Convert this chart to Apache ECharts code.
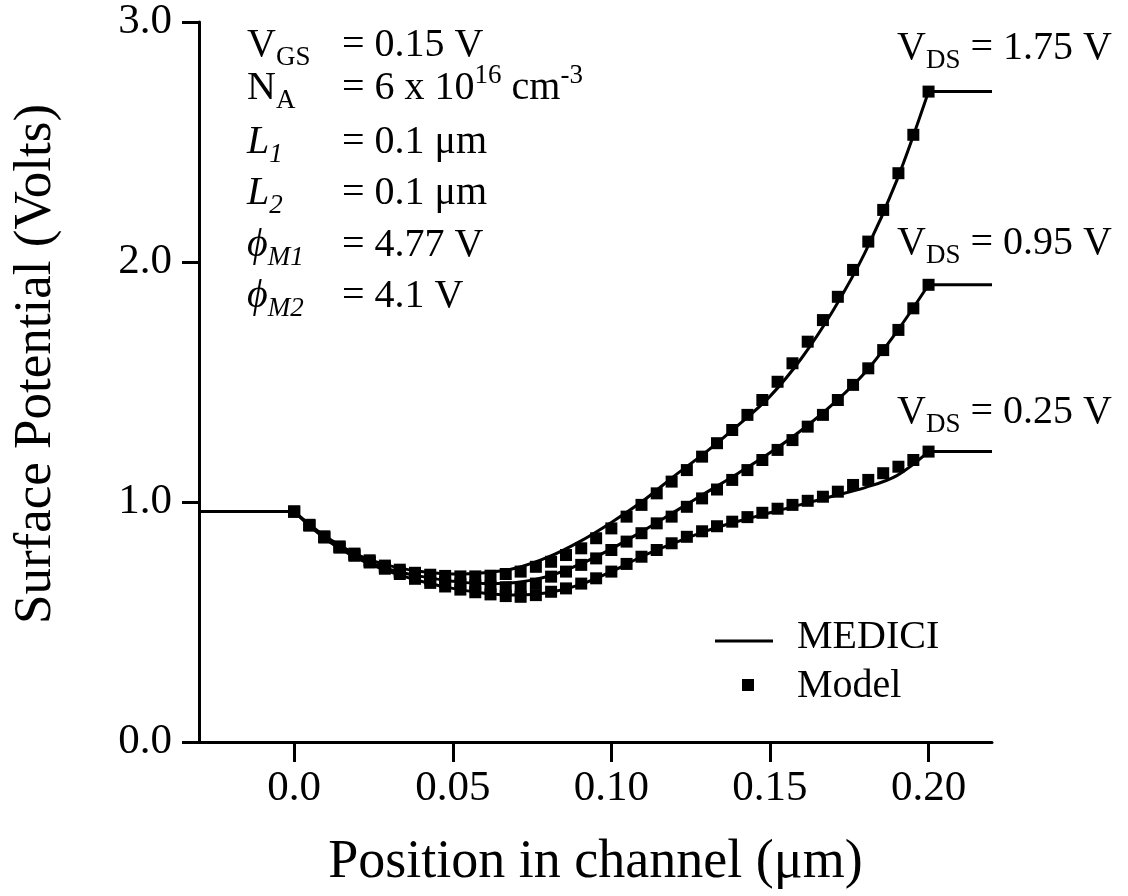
<!DOCTYPE html>
<html>
<head>
<meta charset="utf-8">
<script src="https://cdn.jsdelivr.net/npm/echarts@6.0.0/dist/echarts.min.js"></script>
<style>
  html, body { margin: 0; padding: 0; background: #fff; }
  #chart { width: 1128px; height: 896px; }
</style>
</head>
<body>
<div id="chart"></div>
<script>
// model points (squares), position in channel in um
const positionModel = [
  0, 0.0048, 0.0095, 0.0143, 0.019, 0.0238, 0.0286, 0.0333, 0.0381, 0.0429,
  0.0476, 0.0524, 0.0571, 0.0619, 0.0667, 0.0714, 0.0762, 0.081, 0.0857, 0.0905,
  0.0952, 0.1, 0.1048, 0.1095, 0.1143, 0.119, 0.1238, 0.1286, 0.1333, 0.1381,
  0.1429, 0.1476, 0.1524, 0.1571, 0.1619, 0.1667, 0.1714, 0.1762, 0.181, 0.1857,
  0.1905, 0.1952, 0.2,
]
const modelVds175 = [
  0.96, 0.905, 0.857, 0.815, 0.785, 0.757, 0.735, 0.718, 0.705, 0.697,
  0.692, 0.69, 0.69, 0.693, 0.7, 0.71, 0.73, 0.751, 0.779, 0.807,
  0.849, 0.89, 0.939, 0.988, 1.036, 1.085, 1.133, 1.189, 1.245, 1.3,
  1.363, 1.425, 1.501, 1.578, 1.668, 1.758, 1.855, 1.967, 2.085, 2.217,
  2.37, 2.53, 2.71,
]
const modelVds095 = [
  0.96, 0.903, 0.854, 0.812, 0.78, 0.752, 0.728, 0.708, 0.69, 0.677,
  0.667, 0.658, 0.652, 0.648, 0.645, 0.642, 0.66, 0.689, 0.71, 0.738,
  0.765, 0.8, 0.835, 0.87, 0.911, 0.939, 0.98, 1.015, 1.052, 1.092,
  1.133, 1.175, 1.217, 1.258, 1.314, 1.363, 1.425, 1.488, 1.557, 1.633,
  1.717, 1.807, 1.905,
]
const modelVds025 = [
  0.96, 0.902, 0.852, 0.81, 0.776, 0.748, 0.722, 0.7, 0.68, 0.663,
  0.648, 0.635, 0.624, 0.615, 0.608, 0.605, 0.612, 0.626, 0.64, 0.66,
  0.682, 0.71, 0.742, 0.772, 0.8, 0.828, 0.855, 0.878, 0.899, 0.918,
  0.937, 0.955, 0.972, 0.988, 1.005, 1.022, 1.043, 1.071, 1.092, 1.12,
  1.147, 1.175, 1.21,
]

// MEDICI simulation (solid lines); first and last points are the flat contact regions
const positionMedici = [
  -0.03, 0, 0.01, 0.02, 0.03, 0.04, 0.05, 0.06, 0.07, 0.08, 0.09, 0.1,
  0.11, 0.12, 0.13, 0.14, 0.15, 0.16, 0.17, 0.18, 0.19, 0.2, 0.22,
]
const mediciVds175 = [
  0.96, 0.96, 0.855, 0.78, 0.735, 0.71, 0.7, 0.705, 0.725, 0.77, 0.835, 0.915,
  1.005, 1.11, 1.21, 1.32, 1.44, 1.6, 1.8, 2.04, 2.34, 2.71, 2.71,
]
const mediciVds095 = [
  0.96, 0.96, 0.85, 0.77, 0.72, 0.69, 0.67, 0.66, 0.665, 0.69, 0.74, 0.805,
  0.88, 0.96, 1.04, 1.12, 1.205, 1.3, 1.41, 1.54, 1.71, 1.905, 1.905,
]
const mediciVds025 = [
  0.96, 0.96, 0.845, 0.765, 0.71, 0.67, 0.64, 0.62, 0.612, 0.622, 0.655, 0.71,
  0.775, 0.83, 0.88, 0.92, 0.955, 0.99, 1.025, 1.06, 1.11, 1.21, 1.21,
]

const xTickValues = [0, 0.05, 0.1, 0.15, 0.2]
const xTickLabels = ['0.0', '0.05', '0.10', '0.15', '0.20']
const yTickLabels = ['0.0', '1.0', '2.0', '3.0']

const FONT = '"Liberation Serif", "Times New Roman", Times, serif'

const zip = (xs, ys) => xs.map((x, i) => [x, ys[i]])

const RICH = {
  m: { fontFamily: FONT, fontSize: 40, lineHeight: 52, verticalAlign: 'middle', fill: '#000' },
  mi: { fontFamily: FONT, fontSize: 40, lineHeight: 52, verticalAlign: 'middle', fontStyle: 'italic', fill: '#000' },
  sub: { fontFamily: FONT, fontSize: 27, lineHeight: 26, verticalAlign: 'bottom', fill: '#000' },
  subi: { fontFamily: FONT, fontSize: 27, lineHeight: 26, verticalAlign: 'bottom', fontStyle: 'italic', fill: '#000' },
  sup: { fontFamily: FONT, fontSize: 27, lineHeight: 26, verticalAlign: 'top', fill: '#000' },
}

function label(x, y, text) {
  return {
    type: 'text',
    x,
    y,
    silent: true,
    style: {
      text,
      rich: RICH,
      fontFamily: FONT,
      fontSize: 40,
      align: 'left',
      verticalAlign: 'middle',
      fill: '#000',
    },
  }
}

// parameter block, top left
const paramRows = [
  [45, '{m|V}{sub|GS}', '{m|= 0.15 V}'],
  [88, '{m|N}{sub|A}', '{m|= 6 x 10}{sup|16}{m| cm}{sup|-3}'],
  [142, '{mi|L}{subi|1}', '{m|= 0.1 \u03bcm}'],
  [193, '{mi|L}{subi|2}', '{m|= 0.1 \u03bcm}'],
  [245, '{mi|\u03d5}{subi|M1}', '{m|= 4.77 V}'],
  [296, '{mi|\u03d5}{subi|M2}', '{m|= 4.1 V}'],
]

const graphics = []
paramRows.forEach(([y, name, value]) => {
  graphics.push(label(247, y, name))
  graphics.push(label(342, y, value))
})

// curve labels
graphics.push(label(897, 48, '{m|V}{sub|DS}{m| = 1.75 V}'))
graphics.push(label(897, 243, '{m|V}{sub|DS}{m| = 0.95 V}'))
graphics.push(label(897, 412, '{m|V}{sub|DS}{m| = 0.25 V}'))

// legend
graphics.push({
  type: 'line',
  silent: true,
  shape: { x1: 715, y1: 641, x2: 773, y2: 641 },
  style: { stroke: '#000', lineWidth: 3 },
})
graphics.push(label(797, 637, '{m|MEDICI}'))
graphics.push({
  type: 'rect',
  silent: true,
  shape: { x: 742, y: 679, width: 12, height: 12 },
  style: { fill: '#000' },
})
graphics.push(label(797, 686, '{m|Model}'))

const axisLine = { color: '#000', width: 3 }

// the channel part is smoothed, the flat source/drain parts are drawn straight
function mediciSeries(ys) {
  const pts = zip(positionMedici, ys)
  const last = pts.length - 1
  const base = {
    type: 'line',
    name: 'MEDICI',
    symbol: 'none',
    lineStyle: { color: '#000', width: 3 },
    z: 2,
  }
  return [
    { ...base, data: pts.slice(0, 2) },
    { ...base, data: pts.slice(1, last), smooth: 0.35 },
    { ...base, data: pts.slice(last - 1) },
  ]
}

function modelSeries(ys) {
  return {
    type: 'scatter',
    name: 'Model',
    data: zip(positionModel, ys),
    symbol: 'rect',
    symbolSize: 12,
    itemStyle: { color: '#000', opacity: 1 },
    z: 3,
  }
}

const chart = echarts.init(document.getElementById('chart'))
chart.setOption({
  animation: false,
  backgroundColor: '#fff',
  grid: { left: 199, right: 136, top: 22, bottom: 154 },
  xAxis: {
    type: 'value',
    min: -0.03,
    max: 0.22,
    name: 'Position in channel (\u03bcm)',
    nameLocation: 'middle',
    nameGap: 94,
    nameTextStyle: { fontFamily: FONT, fontSize: 54, color: '#000' },
    axisLine: { onZero: false, lineStyle: axisLine },
    axisTick: { customValues: xTickValues, length: 20, lineStyle: axisLine },
    axisLabel: {
      customValues: xTickValues,
      margin: 25,
      fontFamily: FONT,
      fontSize: 43,
      color: '#000',
      formatter: (v) => {
        const i = xTickValues.findIndex((t) => Math.abs(t - v) < 1e-9)
        return i >= 0 ? xTickLabels[i] : ''
      },
    },
    splitLine: { show: false },
  },
  yAxis: {
    type: 'value',
    min: 0,
    max: 3,
    interval: 1,
    name: 'Surface Potential (Volts)',
    nameLocation: 'middle',
    nameGap: 136,
    nameTextStyle: { fontFamily: FONT, fontSize: 53, color: '#000', padding: [0, 0, 0, 36] },
    axisLine: { show: true, onZero: false, lineStyle: axisLine },
    axisTick: { show: true, length: 17, lineStyle: axisLine },
    axisLabel: {
      margin: 27,
      fontFamily: FONT,
      fontSize: 43,
      color: '#000',
      formatter: (v) => yTickLabels[Math.round(v)],
    },
    splitLine: { show: false },
  },
  series: [
    ...mediciSeries(mediciVds175),
    ...mediciSeries(mediciVds095),
    ...mediciSeries(mediciVds025),
    modelSeries(modelVds175),
    modelSeries(modelVds095),
    modelSeries(modelVds025),
  ],
  graphic: graphics,
})
</script>
</body>
</html>
